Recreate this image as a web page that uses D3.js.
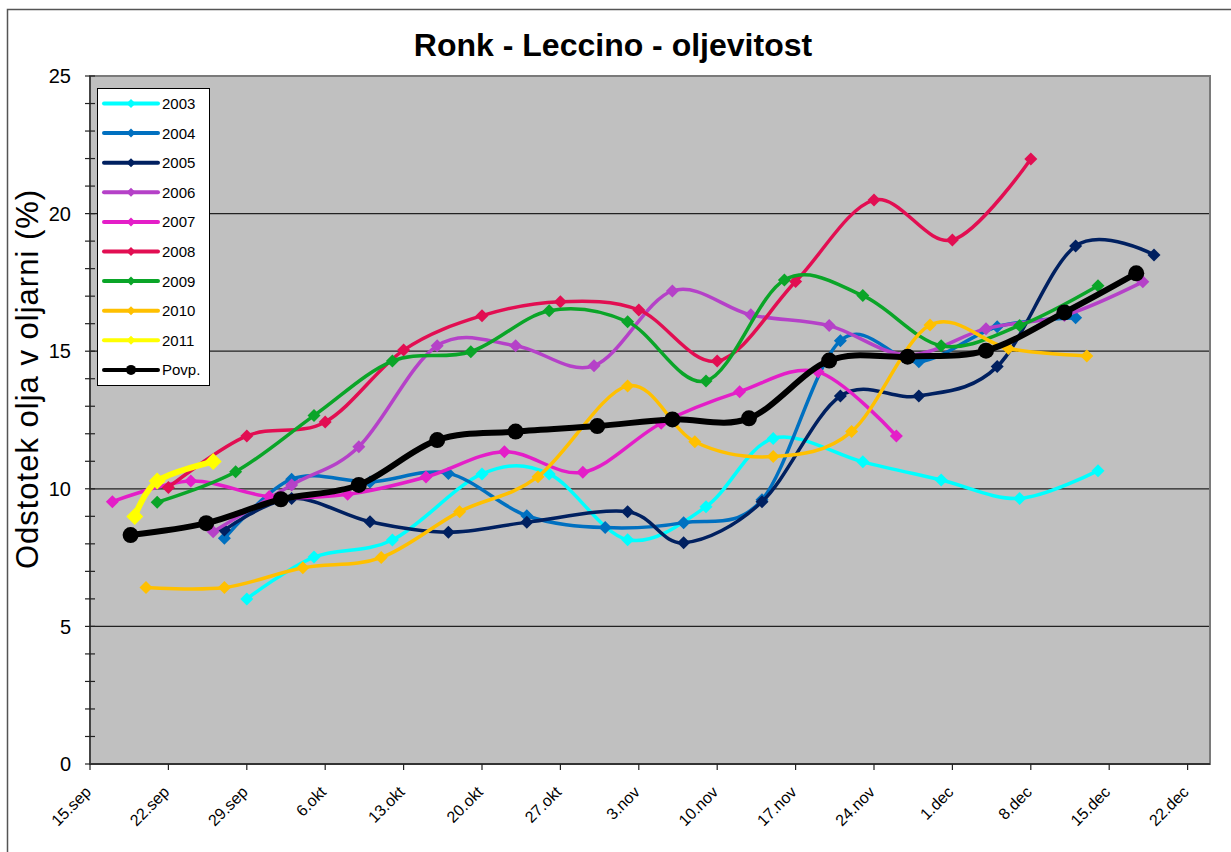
<!DOCTYPE html>
<html>
<head>
<meta charset="utf-8">
<script src="https://cdn.jsdelivr.net/npm/d3@7"></script>
<style>
  body { margin: 0; background: #fff; }
  svg { font-family: Arial, "Liberation Sans", sans-serif; }
</style>
</head>
<body>
<svg id="chart" width="1231" height="852"></svg>
<script>
// series names + colours (legend order)
const seriesNames = ["2003", "2004", "2005", "2006", "2007", "2008", "2009", "2010", "2011", "Povp."];
const seriesColors = ["#00ffff", "#0070c0", "#002060", "#b541c8", "#e41ec8", "#e20e52", "#0aa528", "#ffc000", "#ffff00", "#000000"];

// month names for the tick labels
const monthNames = ["jan", "feb", "mar", "apr", "maj", "jun", "jul", "avg", "sep", "okt", "nov", "dec"];
const yTicks = [0, 5, 10, 15, 20, 25];

// data: [date "m-dd" (optional hour), % oil]
const s2003 = [["9-29", 6.0], ["10-05", 7.52], ["10-12", 8.14], ["10-20", 10.54], ["10-26", 10.54], ["11-02", 8.15],
  ["11-09", 9.35], ["11-15", 11.83], ["11-23", 10.98], ["11-30", 10.32], ["12-07", 9.65], ["12-14", 10.66]];
const s2004 = [["9-27", 8.2], ["10-03", 10.35], ["10-10", 10.25], ["10-17", 10.56], ["10-24", 9.02], ["10-31", 8.59],
  ["11-07", 8.77], ["11-14", 9.6], ["11-21", 15.38], ["11-28", 14.62], ["12-05", 15.89], ["12-12", 16.22]];
const s2005 = [["9-27", 8.5], ["10-03", 9.65], ["10-10", 8.8], ["10-17", 8.42], ["10-24", 8.78], ["11-02", 9.17],
  ["11-07", 8.04], ["11-14", 9.53], ["11-21", 13.37], ["11-28", 13.37], ["12-05", 14.44], ["12-12", 18.82], ["12-19", 18.5]];
const s2006 = [["9-26", 8.44], ["10-03", 10.14], ["10-09", 11.53], ["10-16", 15.2], ["10-23", 15.2], ["10-30", 14.47],
  ["11-06", 17.19], ["11-13", 16.32], ["11-20", 15.93], ["11-27", 14.86], ["12-04", 15.82], ["12-11", 16.3], ["12-18", 17.52]];
const s2007 = [["9-17", 9.53], ["9-24", 10.28], ["10-01", 9.72], ["10-08", 9.8], ["10-15", 10.43], ["10-22", 11.35],
  ["10-29", 10.6], ["11-05", 12.38], ["11-12", 13.53], ["11-19", 14.25], ["11-26", 11.92]];
const s2008 = [["9-22", 10.05], ["9-29", 11.92], ["10-06", 12.43], ["10-13", 15.04], ["10-20", 16.29], ["10-27", 16.8],
  ["11-03", 16.5], ["11-10", 14.64], ["11-17", 17.53], ["11-24", 20.49], ["12-01", 19.04], ["12-08", 21.98]];
const s2009 = [["9-21", 9.51], ["9-28", 10.62], ["10-05", 12.66], ["10-12", 14.64], ["10-19", 14.98], ["10-26", 16.47],
  ["11-02", 16.07], ["11-09", 13.92], ["11-16", 17.59], ["11-23", 17.02], ["11-30", 15.2], ["12-07", 15.93], ["12-14", 17.38]];
const s2010 = [["9-20", 6.41], ["9-27", 6.41], ["10-04", 7.13], ["10-11", 7.5], ["10-18", 9.17], ["10-25", 10.44],
  ["11-02", 13.74], ["11-08", 11.71], ["11-15", 11.17], ["11-22", 12.08], ["11-29", 15.95], ["12-06", 15.1], ["12-13", 14.83]];
const s2011 = [["9-19", 8.99], ["9-21", 10.28], ["9-26", 10.99]];
const sPovp = [["9-18 15", 8.32], ["9-25 09", 8.75], ["10-02 01", 9.62], ["10-09", 10.14], ["10-16", 11.77], ["10-23", 12.08],
  ["10-30 07", 12.28], ["11-06", 12.52], ["11-12 20", 12.56], ["11-20", 14.66], ["11-27", 14.8], ["12-04", 15.02],
  ["12-11", 16.41], ["12-17 10", 17.83]];

const allSeries = [s2003, s2004, s2005, s2006, s2007, s2008, s2009, s2010, s2011, sPovp];

const YEAR = 2011;
function parseDate(s) {
  const [md, h] = s.split(" ");
  const [m, d] = md.split("-");
  return new Date(Date.UTC(YEAR, +m - 1, +d, h ? +h : 0));
}

const svg = d3.select("#chart");
const plot = { left: 90, right: 1210, top: 76, bottom: 764 };

// outer chart frame
svg.append("rect")
  .attr("x", 7.5).attr("y", 9.5)
  .attr("width", 1240).attr("height", 860)
  .attr("fill", "#fff")
  .attr("stroke", "#555").attr("stroke-width", 1.5);

svg.append("text")
  .attr("x", 613).attr("y", 56)
  .attr("text-anchor", "middle")
  .style("font-size", "32px").style("font-weight", "bold")
  .text("Ronk - Leccino - oljevitost");

const x = d3.scaleUtc()
  .domain([new Date(Date.UTC(YEAR, 8, 15)), new Date(Date.UTC(YEAR, 11, 24))])
  .range([plot.left, plot.right]);
const y = d3.scaleLinear().domain([0, 25]).range([plot.bottom, plot.top]);

// plot background
svg.append("rect")
  .attr("x", plot.left).attr("y", plot.top)
  .attr("width", plot.right - plot.left).attr("height", plot.bottom - plot.top)
  .attr("fill", "#c0c0c0");

// gridlines
svg.append("g").selectAll("line")
  .data(yTicks.filter(v => v > 0 && v < 25))
  .join("line")
  .attr("x1", plot.left).attr("x2", plot.right)
  .attr("y1", d => y(d)).attr("y2", d => y(d))
  .attr("stroke", "#222").attr("stroke-width", 1.3);

// plot border
svg.append("rect")
  .attr("x", plot.left).attr("y", plot.top)
  .attr("width", plot.right - plot.left).attr("height", plot.bottom - plot.top)
  .attr("fill", "none").attr("stroke", "#7a7a7a").attr("stroke-width", 2);

// y axis: major + minor ticks crossing the axis line
const yAxisG = svg.append("g");
yAxisG.append("line")
  .attr("x1", plot.left).attr("x2", plot.left)
  .attr("y1", plot.top).attr("y2", plot.bottom)
  .attr("stroke", "#333").attr("stroke-width", 1.5);
yAxisG.selectAll("line.minor")
  .data(d3.range(0, 26))
  .join("line").attr("class", "minor")
  .attr("x1", plot.left - 5).attr("x2", plot.left + 5)
  .attr("y1", d => y(d)).attr("y2", d => y(d))
  .attr("stroke", "#222").attr("stroke-width", 1.2);
yAxisG.selectAll("text")
  .data(yTicks)
  .join("text")
  .attr("x", plot.left - 19).attr("y", d => y(d))
  .attr("dy", "0.36em")
  .attr("text-anchor", "end")
  .style("font-size", "20px")
  .text(d => d);

svg.append("text")
  .attr("transform", `translate(38,379) rotate(-90)`)
  .attr("text-anchor", "middle")
  .style("font-size", "31px")
  .style("letter-spacing", "1px")
  .text("Odstotek olja v oljarni (%)");

// x axis
const xTickDates = d3.range(0, 99, 7).map(k => new Date(Date.UTC(YEAR, 8, 15 + k)));
const xAxisG = svg.append("g");
xAxisG.append("line")
  .attr("x1", plot.left).attr("x2", plot.right)
  .attr("y1", plot.bottom).attr("y2", plot.bottom)
  .attr("stroke", "#333").attr("stroke-width", 2);
xAxisG.selectAll("line.tick")
  .data(xTickDates)
  .join("line").attr("class", "tick")
  .attr("x1", d => x(d)).attr("x2", d => x(d))
  .attr("y1", plot.bottom).attr("y2", plot.bottom + 6)
  .attr("stroke", "#222").attr("stroke-width", 1.2);
xAxisG.selectAll("text")
  .data(xTickDates)
  .join("text")
  .attr("transform", d => `translate(${x(d) + 2},${plot.bottom + 29}) rotate(-45)`)
  .attr("text-anchor", "end")
  .style("font-size", "16px")
  .text(d => d.getUTCDate() + "." + monthNames[d.getUTCMonth()]);

// lines
const line = d3.line()
  .x(d => x(parseDate(d[0])))
  .y(d => y(d[1]))
  .curve(d3.curveCardinal.tension(0));

const diamond = (cx, cy, r) => `M${cx},${cy - r}L${cx + r},${cy}L${cx},${cy + r}L${cx - r},${cy}Z`;

allSeries.forEach((data, i) => {
  const name = seriesNames[i];
  const col = seriesColors[i];
  const g = svg.append("g");
  const lw = name === "Povp." ? 6 : name === "2011" ? 6 : 3.5;
  g.append("path")
    .datum(data)
    .attr("d", line)
    .attr("fill", "none")
    .attr("stroke", col)
    .attr("stroke-width", lw)
    .attr("stroke-linejoin", "round");
  if (name === "Povp.") {
    g.selectAll("circle").data(data).join("circle")
      .attr("cx", d => x(parseDate(d[0]))).attr("cy", d => y(d[1]))
      .attr("r", 8).attr("fill", col);
  } else {
    const r = name === "2011" ? 8.5 : 6.5;
    g.selectAll("path.m").data(data).join("path").attr("class", "m")
      .attr("d", d => diamond(x(parseDate(d[0])), y(d[1]), r))
      .attr("fill", col);
  }
});

// legend
const legend = svg.append("g");
legend.append("rect")
  .attr("x", 97.5).attr("y", 88.5)
  .attr("width", 112).attr("height", 297)
  .attr("fill", "#fff").attr("stroke", "#000").attr("stroke-width", 1);
seriesNames.forEach((name, i) => {
  const ly = 103.5 + i * 29.6;
  const col = seriesColors[i];
  legend.append("line")
    .attr("x1", 104).attr("x2", 158).attr("y1", ly).attr("y2", ly)
    .attr("stroke", col).attr("stroke-width", 4).attr("stroke-linecap", "round");
  if (name === "Povp.") {
    legend.append("circle").attr("cx", 131).attr("cy", ly).attr("r", 5).attr("fill", col);
  } else {
    legend.append("path").attr("d", diamond(131, ly, 4.5)).attr("fill", col);
  }
  legend.append("text")
    .attr("x", 162).attr("y", ly).attr("dy", "0.36em")
    .style("font-size", "15px")
    .text(name);
});
</script>
</body>
</html>
